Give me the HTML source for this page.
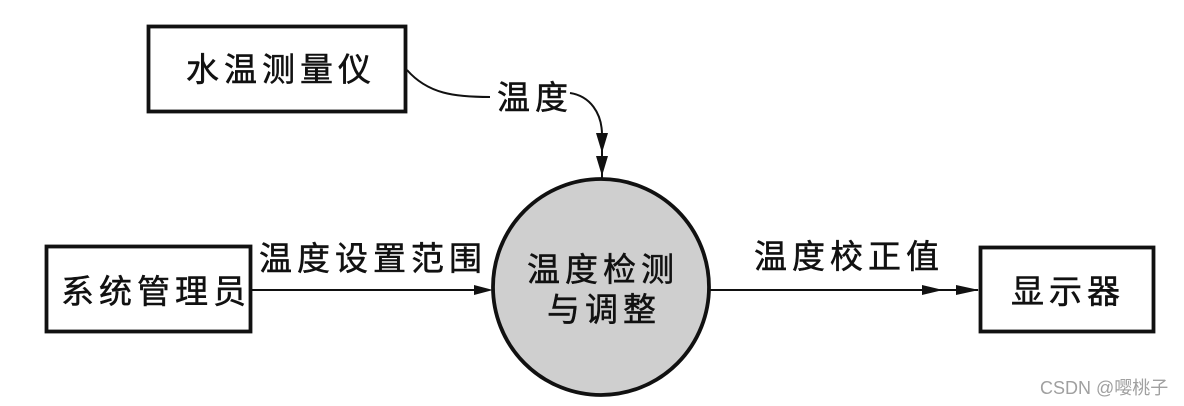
<!DOCTYPE html>
<html>
<head>
<meta charset="utf-8">
<style>
html,body{margin:0;padding:0;background:#fff;}
svg{display:block;}
.t{font-family:"Liberation Sans","Noto Sans CJK SC",sans-serif;font-size:33px;fill:#111;letter-spacing:5px;stroke:#111;stroke-width:0.5px;}
</style>
</head>
<body>
<svg width="1184" height="406" viewBox="0 0 1184 406" xmlns="http://www.w3.org/2000/svg">
  <rect x="0" y="0" width="1184" height="406" fill="#fff"/>
  <!-- boxes -->
  <rect x="148.5" y="26.5" width="257" height="85" fill="#fff" stroke="#111" stroke-width="3.8"/>
  <rect x="46.5" y="246.5" width="204" height="85" fill="#fff" stroke="#111" stroke-width="3.8"/>
  <rect x="980.5" y="247.5" width="173" height="84" fill="#fff" stroke="#111" stroke-width="3.8"/>

  <!-- circle -->
  <circle cx="601" cy="287" r="108" fill="#cfcfcf" stroke="#111" stroke-width="3.8"/>

  <!-- top connector -->
  <path d="M407 70 C428 94 455 97 490 97" fill="none" stroke="#111" stroke-width="2"/>
  <path d="M570 93 C590 96 602 113 602 135 L602 178" fill="none" stroke="#111" stroke-width="2"/>
  <polygon points="596,133 608,133 602,153" fill="#111"/>
  <polygon points="596,156 608,156 602,176" fill="#111"/>

  <!-- left connector -->
  <line x1="252" y1="290" x2="480" y2="290" stroke="#111" stroke-width="2"/>
  <polygon points="474,285 493,290 474,295" fill="#111"/>

  <!-- right connector -->
  <line x1="710" y1="290" x2="978" y2="290" stroke="#111" stroke-width="2"/>
  <polygon points="922,285 943,290 922,295" fill="#111"/>
  <polygon points="956,285 979,290 956,295" fill="#111"/>

  <!-- labels -->
  <text class="t" x="186" y="81">水温测量仪</text>
  <text class="t" x="497" y="109">温度</text>
  <text class="t" x="259" y="270">温度设置范围</text>
  <text class="t" x="61" y="303">系统管理员</text>
  <text class="t" x="527" y="281">温度检测</text>
  <text class="t" x="547" y="321">与调整</text>
  <text class="t" x="754" y="268">温度校正值</text>
  <text class="t" x="1011" y="303">显示器</text>

  <text x="1040" y="394" style="font-family:'Liberation Sans','Noto Sans CJK SC',sans-serif;font-size:18px;fill:#a0a0a0;">CSDN @嘤桃子</text>
</svg>
</body>
</html>
